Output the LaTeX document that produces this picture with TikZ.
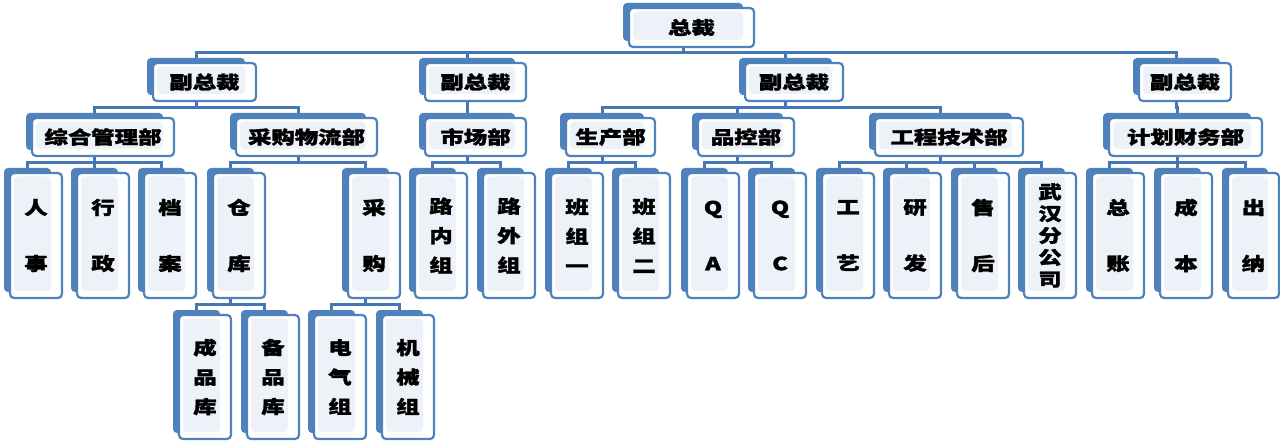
\documentclass[tikz,border=0pt]{standalone}
\usepackage{fontspec}
\newfontfamily\cjk[FakeStretch=1.3, BoldFeatures={FakeBold=1.8}]{Noto Sans CJK SC}
\usetikzlibrary{calc}
\pgfdeclarelayer{bg}
\pgfsetlayers{bg,main}
\definecolor{boxblue}{HTML}{4F81BD}
\definecolor{connblue}{HTML}{4677B5}
\definecolor{innerblue}{HTML}{EDF2F9}
\newcommand\htext{\cjk\bfseries\fontsize{18}{20}\selectfont}
\tikzset{
  frontbox/.style={draw=boxblue, line width=2.2pt, fill=white, rounded corners=4pt,
    inner sep=0pt, outer sep=0pt, text=black, font=\htext,
    path picture={\fill[innerblue] ([shift={(4pt,7pt)}]path picture bounding box.south west)
      rectangle ([shift={(-11pt,-3.5pt)}]path picture bounding box.north east);}},
  vtwo/.style={align=center, font=\cjk\bfseries\fontsize{18}{56}\selectfont},
  vthree/.style={align=center, font=\cjk\bfseries\fontsize{18}{29.5}\selectfont},
  vfive/.style={align=center, font=\cjk\bfseries\fontsize{18}{21.8}\selectfont},
  conn/.style={draw=connblue, line width=3pt}
}
\newcommand\obox[7][]{%
  \fill[boxblue, rounded corners=4pt] ({#3-6},{#4-5}) rectangle ({#5-11},{#6-6});
  \node[frontbox, #1, minimum width={#5-#3}, minimum height={#6-#4}] (#2) at ({(#3+#5)/2},{(#4+#6)/2}) {#7};
  \coordinate (#2-c) at ({(#3+#5)/2-8.5},{(#4+#6)/2});
}
\newcommand\orgfam[3]{%
  \begin{pgfonlayer}{bg}
  \foreach \ch in {#3} {\draw[conn] (#1-c |- #1.south) -- ++(0,#2) -| (\ch-c |- \ch.north);}
  \end{pgfonlayer}
}
\begin{document}
\begin{tikzpicture}[x=1pt,y=-1pt]
\begin{pgfonlayer}{bg}
\fill[white] (0,0) rectangle (1280,441);
\end{pgfonlayer}
\useasboundingbox (0,0) rectangle (1280,441);
% level 0
\obox{ceo}{629}{8}{754}{47}{总裁}
% level 1
\obox{vpa}{153}{63}{256}{101}{副总裁}
\obox{vpb}{425}{63}{526}{101}{副总裁}
\obox{vpc}{745}{63}{843}{101}{副总裁}
\obox{vpd}{1139}{63}{1231}{101}{副总裁}
% level 2
\obox{zh}{32}{118}{174}{156}{综合管理部}
\obox{cg}{236}{118}{377}{156}{采购物流部}
\obox{sc}{425}{118}{526}{156}{市场部}
\obox{scb}{566}{118}{655}{156}{生产部}
\obox{pk}{698}{118}{794}{156}{品控部}
\obox{gc}{875}{118}{1023}{156}{工程技术部}
\obox{cw}{1109}{118}{1262}{156}{计划财务部}
% level 3
\obox[vtwo]{rs}{10}{173}{62}{298}{人\\事}
\obox[vtwo]{xz}{77}{173}{129}{298}{行\\政}
\obox[vtwo]{da}{144}{173}{196}{298}{档\\案}
\obox[vtwo]{ck}{213}{173}{265}{298}{仓\\库}
\obox[vtwo]{cgo}{348}{173}{400}{298}{采\\购}
\obox[vthree]{lnz}{415}{173}{467}{298}{路\\内\\组}
\obox[vthree]{lwz}{483}{173}{535}{298}{路\\外\\组}
\obox[vthree]{bza}{551}{173}{603}{298}{班\\组\\一}
\obox[vthree]{bzb}{618}{173}{670}{298}{班\\组\\二}
\obox[vtwo]{qa}{687}{173}{739}{298}{Q\\A}
\obox[vtwo]{qc}{754}{173}{806}{298}{Q\\C}
\obox[vtwo]{gy}{822}{173}{874}{298}{工\\艺}
\obox[vtwo]{yf}{889}{173}{941}{298}{研\\发}
\obox[vtwo]{sh}{957}{173}{1009}{298}{售\\后}
\obox[vfive]{wh}{1024}{173}{1076}{298}{武\\汉\\分\\公\\司}
\obox[vtwo]{zz}{1092}{173}{1144}{298}{总\\账}
\obox[vtwo]{cb}{1160}{173}{1212}{298}{成\\本}
\obox[vtwo]{cn}{1228}{173}{1279}{298}{出\\纳}
% level 4
\obox[vthree]{cpk}{179}{315}{231}{439}{成\\品\\库}
\obox[vthree]{bpk}{247}{315}{299}{439}{备\\品\\库}
\obox[vthree]{dqz}{314}{315}{366}{439}{电\\气\\组}
\obox[vthree]{jxz}{382}{315}{434}{439}{机\\械\\组}
% connectors
\orgfam{ceo}{5.5}{vpa,vpb,vpc,vpd}
\orgfam{vpa}{6.5}{zh,cg}
\orgfam{vpb}{6.5}{sc}
\orgfam{vpc}{6.5}{scb,pk,gc}
\orgfam{vpd}{6.5}{cw}
\orgfam{zh}{6.5}{rs,xz,da}
\orgfam{cg}{6.5}{ck,cgo}
\orgfam{sc}{6.5}{lnz,lwz}
\orgfam{scb}{6.5}{bza,bzb}
\orgfam{pk}{6.5}{qa,qc}
\orgfam{gc}{6.5}{gy,yf,sh,wh}
\orgfam{cw}{6.5}{zz,cb,cn}
\orgfam{ck}{6.5}{cpk,bpk}
\orgfam{cgo}{6.5}{dqz,jxz}
\end{tikzpicture}
\end{document}
